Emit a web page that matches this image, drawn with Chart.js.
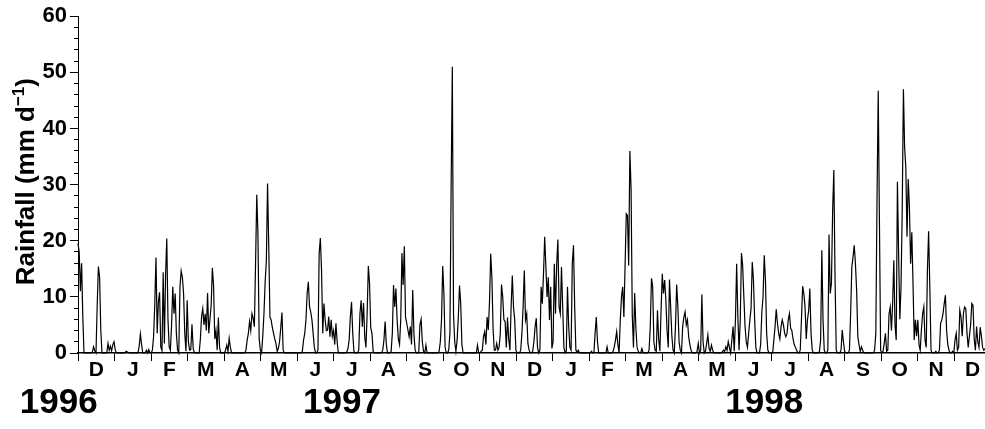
<!DOCTYPE html>
<html>
<head>
<meta charset="utf-8">
<script src="https://cdn.jsdelivr.net/npm/chart.js@4.4.1/dist/chart.umd.min.js"></script>
<style>
  body { margin: 0; background: #fff; }
</style>
</head>
<body>
<canvas id="rainChart" width="985" height="429"></canvas>
<script>
// daily rainfall (mm/day), one array per month
const dec96 = [19.5, 18, 11, 16, 6.5, 0, 0, 0, 0, 0, 0, 0, 0.2, 1.1, 0.4, 0, 8.5, 15.4, 13.5, 4, 0, 0, 0, 0, 0, 1.7, 0.5, 1.2, 0.4, 1.5];
const jan97 = [2.0, 0.6, 0, 0, 0, 0, 0, 0, 0, 0, 0.3, 0.2, 0.1, 0, 0, 0, 0, 0, 0, 0, 0, 1.2, 3.4, 1.5, 0, 0, 0, 0.5, 0, 0.6, 0];
const feb97 = [0, 0.5, 2.9, 8.8, 17, 3.5, 9.1, 10.8, 1.1, 0.4, 14.4, 1.7, 14, 20.4, 5.9, 1.1, 0.5, 5, 11.8, 7, 10.6, 3.5, 0.5, 0, 11.8, 14.6, 13.5, 10.6, 3.5, 0.3];
const mar97 = [9.4, 2, 0.5, 0.6, 5.1, 0.8, 0, 0, 0, 0, 0, 2.5, 6.5, 7.9, 5, 7, 4, 10.7, 3.5, 6, 8.5, 15.2, 12, 2.5, 4, 0.5, 6.3, 1, 0, 0, 0];
const apr97 = [0, 0.5, 1.4, 0.3, 2.6, 1, 0, 0, 0, 0, 0, 0, 0, 0, 0, 0, 0, 0, 0.5, 2.3, 3.5, 5.6, 4, 7, 6.2, 4.7, 15.9, 28.2, 21, 2.6];
const may97 = [0.5, 0, 3, 7, 12.7, 16.5, 30.2, 18.9, 6.4, 5.9, 4.5, 3.5, 2.5, 1.7, 0.3, 0.8, 2, 4.5, 7.2, 0.5, 0, 0, 0, 0, 0, 0, 0, 0, 0, 0, 0];
const jun97 = [0, 0, 0, 0, 0.3, 2.3, 3.5, 5.9, 10.6, 12.7, 8.2, 7.3, 5.9, 3.5, 1, 0, 0, 0.5, 17.7, 20.5, 14.7, 3.5, 8.8, 5.9, 4, 4.1, 6.5, 2.9, 5.9, 3];
const jul97 = [4, 1.5, 5.3, 2, 0, 0, 0, 0, 0, 0, 0, 0.2, 0.8, 2.3, 6.4, 9.1, 3.5, 0.3, 0, 0, 0, 0.5, 7, 9.4, 4.7, 8.9, 2.9, 1, 7, 15.5, 12.4];
const aug97 = [4.5, 3.5, 0.3, 0, 0, 0, 0, 0, 0, 0, 0.5, 2.3, 5.6, 1.5, 0, 0, 0, 0.3, 3.5, 12.1, 8.2, 11.5, 5.9, 2.5, 1.5, 5.9, 17.8, 12.1, 19, 6.4];
const sep97 = [5.3, 4.1, 2.9, 4.7, 1.5, 11.2, 3.5, 0.5, 0, 0, 0, 5, 6, 2, 0.3, 0, 1.4, 0, 0, 0, 0, 0, 0, 0, 0, 0, 0, 0.3, 2, 5.9];
const oct97 = [15.5, 10.6, 1, 0, 0, 0.5, 3.5, 29.5, 51, 7, 2, 0.3, 2.3, 6.4, 12, 8.8, 1.5, 0, 0, 0, 0, 0, 0, 0, 0, 0, 0, 0, 0, 1.4, 0];
const nov97 = [0, 0.3, 0.5, 2.9, 3.8, 1.5, 6.4, 4.1, 9.1, 17.7, 13.3, 4.1, 0.5, 0.5, 1.7, 0.5, 1, 3.5, 12.2, 10, 5.9, 5.6, 1, 6.3, 2.5, 0.5, 8.2, 13.8, 8.2, 5.9];
const dec97 = [0.5, 0, 0, 0, 0.5, 3.5, 8.2, 14.7, 5.9, 7, 1.7, 0.5, 0, 0, 0.3, 2, 4.7, 6.2, 1, 0, 0.5, 11.8, 8.8, 14.1, 20.7, 15.3, 10, 13.5, 5.9, 11.8, 0.8];
const jan98 = [2, 15.9, 7, 15.9, 20.2, 8.2, 7, 15.3, 8.2, 1, 0, 0.3, 11.8, 4.7, 1, 0.5, 15.9, 19.2, 8.2, 0.5, 0.2, 0.5, 0, 0, 0, 0, 0, 0, 0, 0];
const feb98 = [0, 0, 0.3, 0, 0, 3.5, 6.4, 2, 0, 0, 0, 0, 0, 0, 0, 1.1, 0, 0, 0, 0, 0.3, 1.1, 2.3, 3.8, 1.5, 0, 5.9, 10, 11.8, 6.4, 15.6];
const mar98 = [24.8, 24.5, 15.6, 36, 29.2, 6.7, 1, 10.7, 4.4, 1, 0.3, 0, 0, 0.8, 0, 0, 0, 0, 0, 0.5, 4.7, 13.3, 11.8, 2, 0.5, 0.3, 7.6, 2.5, 0.3, 7.6];
const apr98 = [14.1, 10.6, 13, 9.4, 4, 1, 13.1, 8.2, 3, 0.5, 0, 4.7, 12.2, 8.2, 2, 0.5, 0, 4.7, 6.4, 7.3, 5, 5.9, 2.9, 1.5, 0.5, 0, 0, 0, 0, 0.3, 1.7];
const may98 = [0, 0.5, 10.4, 2, 0, 0.3, 1.7, 3.2, 0.8, 0.3, 1.4, 0.5, 0, 0, 0, 0, 0, 0, 0, 0.2, 0.5, 0.3, 1.1, 0.5, 2, 1, 0, 2.3, 4.7, 0.3];
const jun98 = [6, 15.9, 6.4, 0.5, 5.9, 17.8, 15.6, 10, 4.7, 2, 1, 3.5, 5.9, 7.9, 16.2, 13, 5.9, 1, 0, 0, 0, 1.5, 7.3, 10, 17.4, 13, 3.5, 0.5, 0, 0, 0];
const jul98 = [0, 2.3, 4.7, 7.8, 5.3, 3.5, 2.5, 4.7, 5.9, 5, 3.5, 2.9, 3.5, 5.9, 7, 4.4, 4, 2.5, 1.5, 1, 0.5, 0, 0, 0.5, 5.9, 11.9, 10.6, 8.2, 2.5, 5.9];
const aug98 = [7.5, 11.5, 3.5, 0.5, 0, 0, 0, 0, 0, 0.3, 2.3, 18.3, 5.9, 0.5, 0, 0, 0.5, 21.1, 10.6, 12.4, 25.4, 32.6, 13.5, 0.5, 0, 0, 0, 0.5, 4.1, 2];
const sep98 = [0.3, 0, 0, 0, 0.5, 7, 15.3, 17.1, 19.2, 15.9, 11.2, 2.9, 1.5, 0.3, 1.1, 0.5, 0, 0, 0, 0, 0, 0, 0, 0, 0, 0.5, 3.5, 27.5, 46.7, 23.6, 0.5];
const oct98 = [0, 0.3, 1.7, 3.5, 0.3, 0.5, 7, 8.2, 4, 8.8, 16.5, 5, 2.3, 30.5, 17.7, 6, 11.8, 25.4, 47, 36.6, 33.1, 20.7, 31, 26, 15.9, 21.5, 12.4, 2.3, 5.9, 3];
const nov98 = [5.9, 1.5, 0.5, 4.1, 7, 8.2, 2.3, 1, 14.7, 21.7, 11.8, 0.5, 0, 0, 0, 0.3, 0, 0, 0.5, 5.3, 5.9, 7, 8.8, 10.3, 4, 1.5, 0.5, 0, 0, 0.3, 0];
const dec98 = [2.3, 3.5, 0.5, 1, 7.6, 6.4, 3, 7, 8.2, 7.9, 3.5, 1, 3, 5, 8.8, 8.5, 2.5, 0.5, 4.7, 2, 1, 4.6, 3, 1, 0.5, 0.8];

const rainfall = [].concat(dec96, jan97, feb97, mar97, apr97, may97, jun97, jul97, aug97, sep97,
  oct97, nov97, dec97, jan98, feb98, mar98, apr98, may98, jun98, jul98, aug98, sep98, oct98, nov98, dec98);

const monthLabels = ['D', 'J', 'F', 'M', 'A', 'M', 'J', 'J', 'A', 'S', 'O', 'N',
  'D', 'J', 'F', 'M', 'A', 'M', 'J', 'J', 'A', 'S', 'O', 'N', 'D'];
const yearLabels = ['1996', '1997', '1998'];

const monthStep = 365.25 / 12; // ticks are evenly spaced on the figure
const fontFamily = "'Liberation Sans Narrow', 'Liberation Sans', Arial, sans-serif";

// year labels under the month row, and the y title with its superscript
const extraText = {
    id: 'extraText',
    afterDraw(chart) {
        const ctx = chart.ctx;
        const xs = chart.scales.x;
        const area = chart.chartArea;
        ctx.save();
        ctx.fillStyle = '#000';

        ctx.font = 'bold 35px "Liberation Sans", Arial, sans-serif';
        ctx.textAlign = 'center';
        ctx.textBaseline = 'alphabetic';
        const yearAt = [-16, 220, 572]; // day index under which each year is written
        yearLabels.forEach((t, i) => ctx.fillText(t, xs.getPixelForValue(yearAt[i]), 413));

        const big = 'bold 26px "Liberation Sans", Arial, sans-serif';
        const small = 'bold 17px "Liberation Sans", Arial, sans-serif';
        const main = 'Rainfall (mm d', sup = '\u22121', end = ')';
        ctx.font = big;
        const w1 = ctx.measureText(main).width;
        const w3 = ctx.measureText(end).width;
        ctx.font = small;
        const w2 = ctx.measureText(sup).width;
        ctx.translate(34, (area.top + area.bottom) / 2 - 3);
        ctx.rotate(-Math.PI / 2);
        ctx.textAlign = 'left';
        let pos = -(w1 + w2 + w3) / 2;
        ctx.font = big;
        ctx.fillText(main, pos, 0);
        pos += w1;
        ctx.font = small;
        ctx.fillText(sup, pos, -10);
        pos += w2;
        ctx.font = big;
        ctx.fillText(end, pos, 0);
        ctx.restore();
    }
};

new Chart(document.getElementById('rainChart'), {
    type: 'line',
    data: {
        datasets: [{
            data: rainfall.map((v, i) => ({ x: i, y: v })),
            borderColor: '#000',
            borderWidth: 1.2,
            pointRadius: 0,
            tension: 0,
            fill: false,
            clip: false
        }]
    },
    options: {
        responsive: false,
        animation: false,
        layout: { padding: { top: 15, right: 0, bottom: 0, left: 0 } },
        plugins: { legend: { display: false }, tooltip: { enabled: false } },
        scales: {
            x: {
                type: 'linear',
                min: 0,
                max: rainfall.length - 1,
                afterBuildTicks: s => {
                    const ticks = [];
                    monthLabels.forEach((m, k) => {
                        ticks.push({ value: k * monthStep });
                        ticks.push({ value: (k + 0.5) * monthStep, name: m });
                    });
                    s.ticks = ticks.filter(t => t.value <= s.max);
                },
                afterFit: s => { s.height = 76; },
                grid: {
                    drawOnChartArea: false,
                    tickLength: 8,
                    tickWidth: 1,
                    tickColor: c => (c.tick && c.tick.name) ? 'rgba(0,0,0,0)' : '#000'
                },
                border: { color: '#000', width: 1.5 },
                ticks: {
                    autoSkip: false,
                    maxRotation: 0,
                    color: '#000',
                    padding: -3,
                    font: { family: fontFamily, size: 21, weight: 'bold' },
                    callback: (v, i, t) => t[i].name || ''
                }
            },
            y: {
                min: 0,
                max: 60,
                afterBuildTicks: s => {
                    const ticks = [];
                    for (let v = 0; v <= 60; v += 2) ticks.push({ value: v });
                    s.ticks = ticks;
                },
                afterFit: s => { s.width = 78; },
                grid: {
                    drawOnChartArea: false,
                    tickLength: 8,
                    tickWidth: 1,
                    tickColor: '#000',
                    tickBorderDash: c => (c.tick && c.tick.value % 10 === 0) ? [] : [0, 4, 4, 100]
                },
                border: { color: '#000', width: 1 },
                ticks: {
                    autoSkip: false,
                    color: '#000',
                    padding: 3,
                    font: { family: fontFamily, size: 22, weight: 'bold' },
                    callback: v => v % 10 === 0 ? v : ''
                }
            }
        }
    },
    plugins: [extraText]
});
</script>
</body>
</html>
